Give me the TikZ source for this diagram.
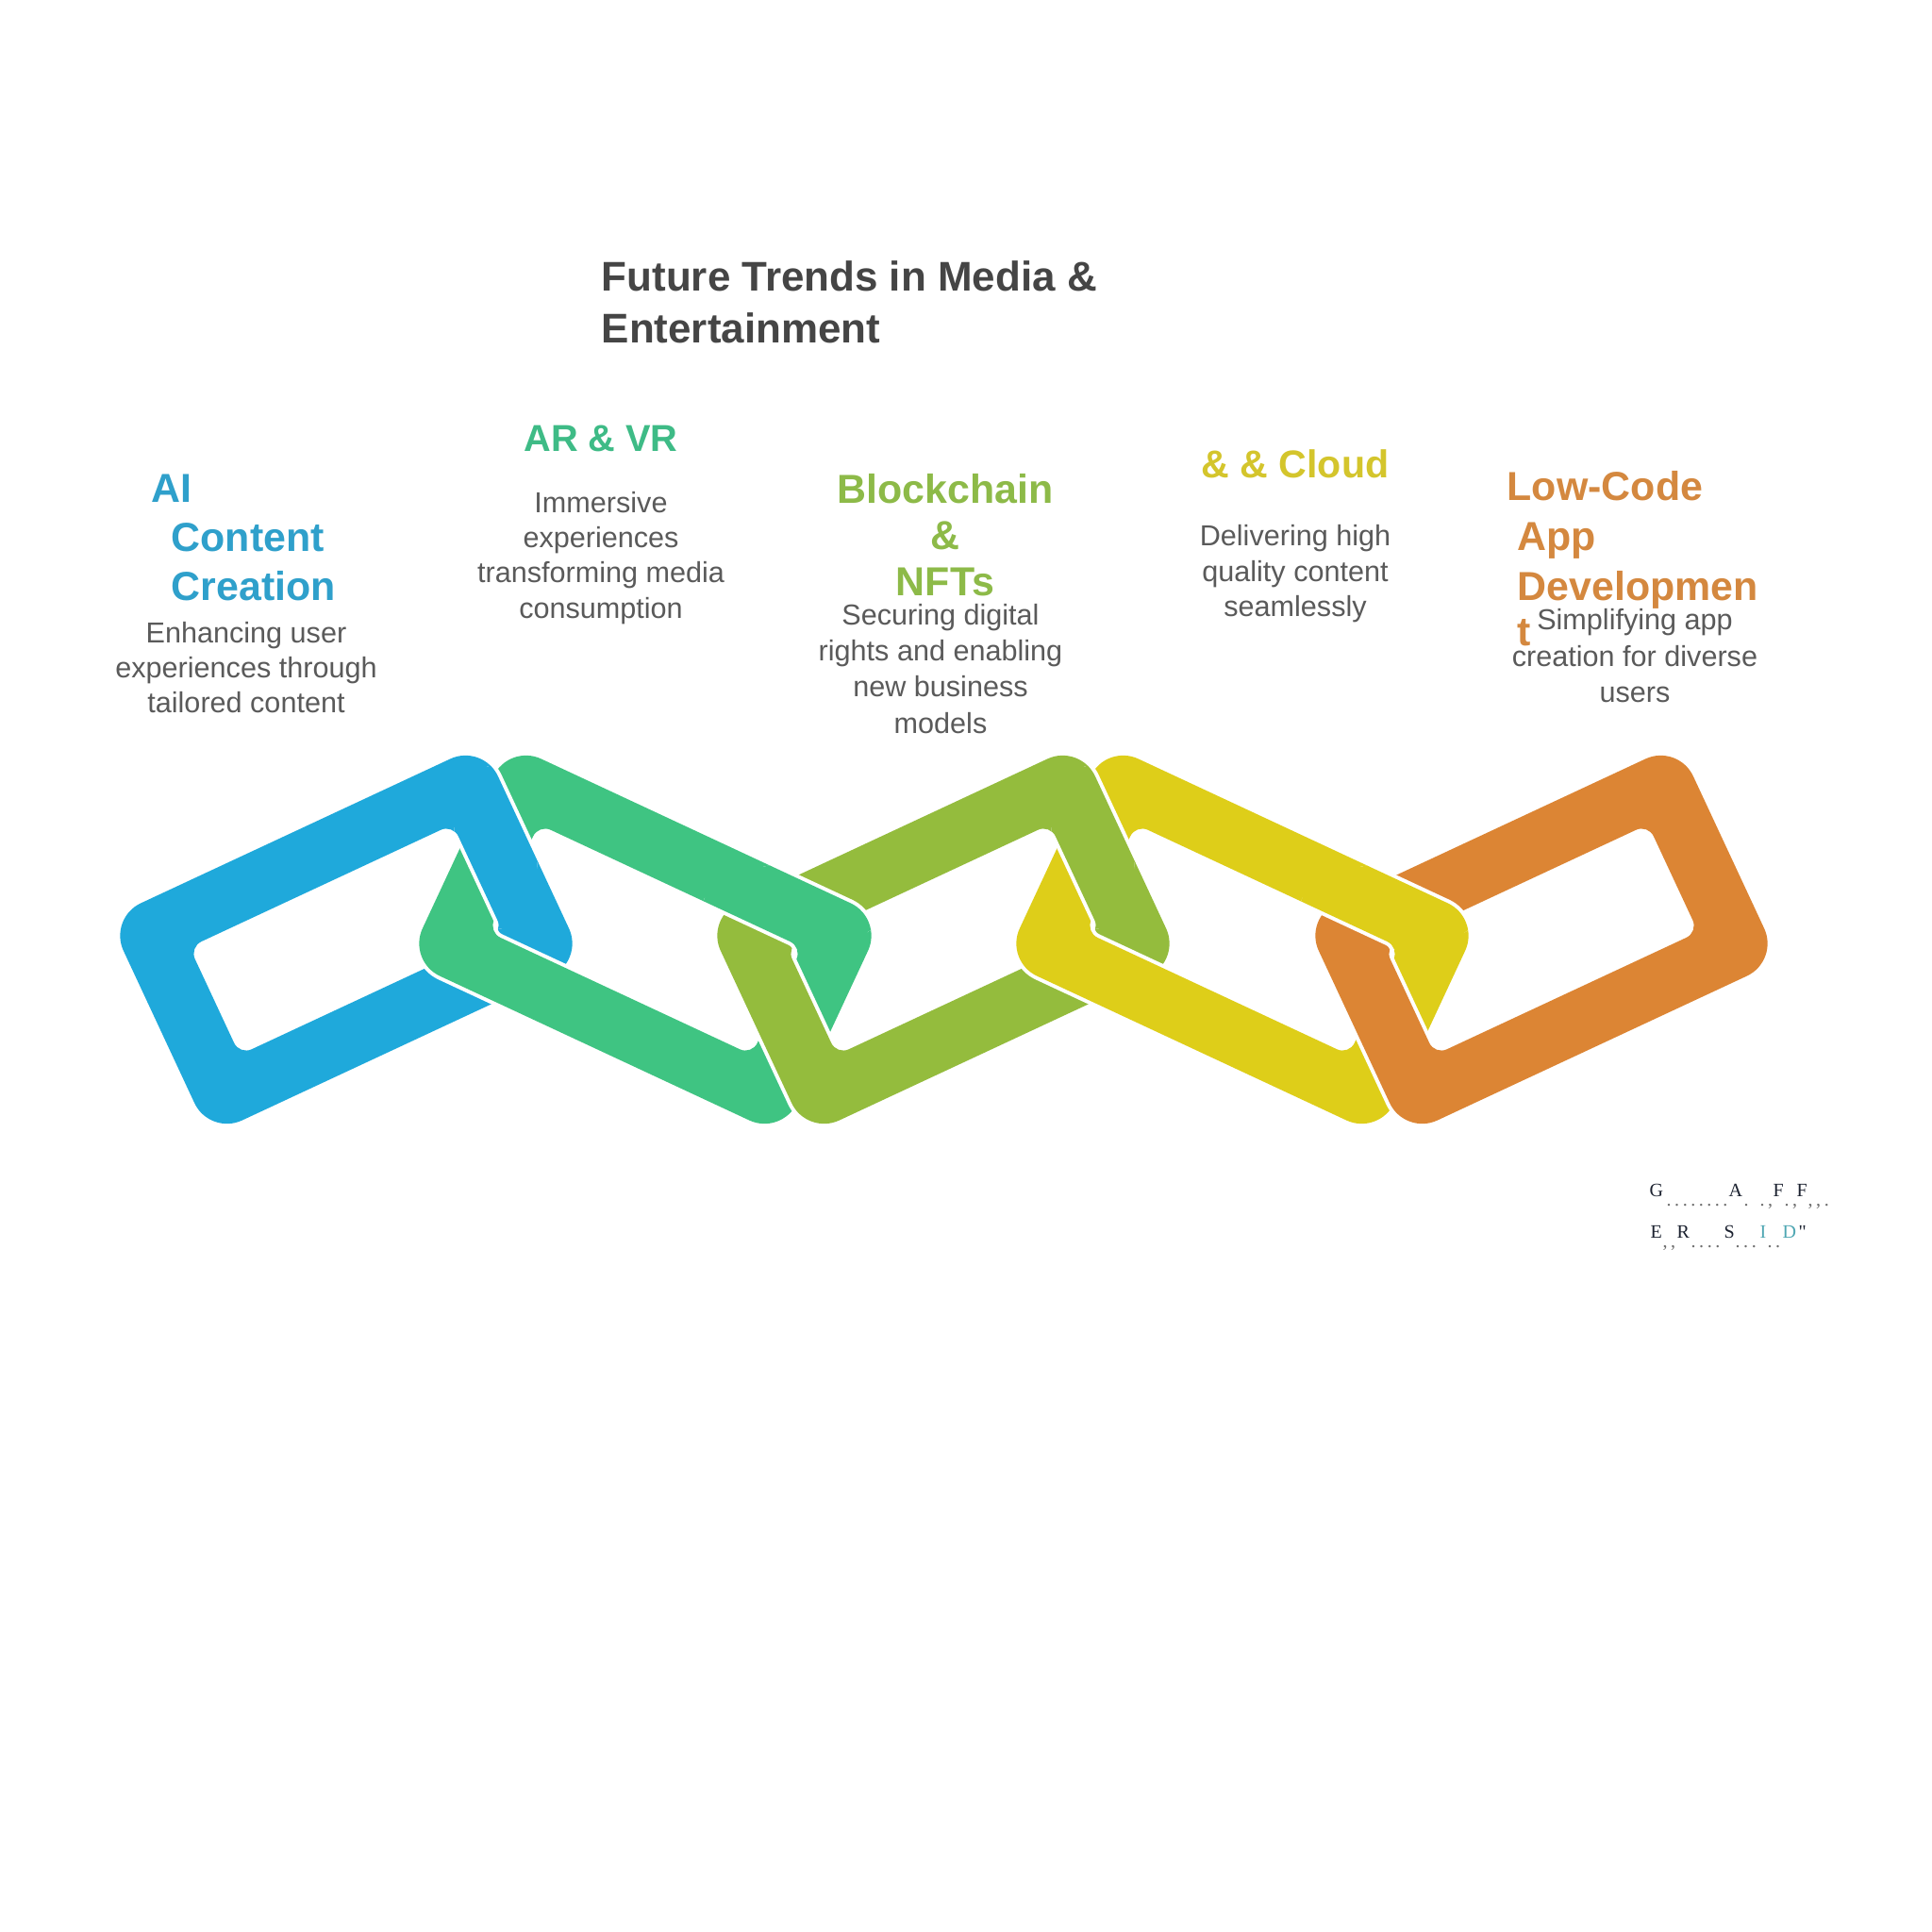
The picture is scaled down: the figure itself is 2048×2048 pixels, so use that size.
\documentclass[tikz,border=0pt]{standalone}
\usepackage{fontspec}
\setmainfont{Liberation Sans}
\newfontfamily\wmserif{Liberation Serif}
\definecolor{linkblue}{HTML}{1FA9DB}
\definecolor{linkgreen}{HTML}{3FC482}
\definecolor{linkolive}{HTML}{94BC3D}
\definecolor{linkyellow}{HTML}{DECE19}
\definecolor{linkorange}{HTML}{DC8534}
\definecolor{hdblue}{HTML}{2FA0CB}
\definecolor{hdgreen}{HTML}{3EBB86}
\definecolor{hdolive}{HTML}{8DBA48}
\definecolor{hdyellow}{HTML}{D4C52C}
\definecolor{hdorange}{HTML}{D4883F}
\definecolor{titlegray}{HTML}{454545}
\definecolor{bodygray}{HTML}{5A5A5A}
\definecolor{wmdark}{HTML}{1C2230}
\definecolor{wmgray}{HTML}{6E6E6E}
\definecolor{wmteal}{HTML}{4FA7B3}
\newcommand\dk{\kern1pt}
\newcommand\chainlink[4]{%
  \begin{scope}[shift={(#1,#2)},rotate=#3]
    \draw[white,line width=0.08cm]
      [rounded corners=0.38cm] (-219,-127) rectangle (219,127)
      [rounded corners=0.14cm] (-154,-63) rectangle (154,63);
    \fill[#4,even odd rule]
      [rounded corners=0.38cm] (-219,-127) rectangle (219,127)
      [rounded corners=0.14cm] (-154,-63) rectangle (154,63);
  \end{scope}}
\begin{document}
\begin{tikzpicture}[x=0.01cm,y=-0.01cm,
  ttl/.style={anchor=base west,inner sep=0pt,text=titlegray,font=\fontsize{12.5}{15}\selectfont\bfseries},
  hd/.style={anchor=base,inner sep=0pt,font=\fontsize{12.2}{14.8}\selectfont\bfseries},
  hdl/.style={hd,anchor=base west},
  bd/.style={anchor=base,inner sep=0pt,text=bodygray,font=\fontsize{8.7}{10.7}\selectfont},
  wm/.style={anchor=base west,inner sep=0pt,text=wmdark,font=\wmserif\fontsize{5.7}{6.8}\selectfont},
  wmd/.style={wm,text=wmgray}]
\fill[white] (0,0) rectangle (2048,2048);
\useasboundingbox (0,0) rectangle (2048,2048);

% chain links
\chainlink{367}{996}{25}{linkblue}
\chainlink{684}{996}{-25}{linkgreen}
\chainlink{1000}{996}{25}{linkolive}
\chainlink{1317}{996}{-25}{linkyellow}
\chainlink{1634}{996}{25}{linkorange}
% left link over right link at the upper crossings
\begin{scope}
  \clip (525.5,898) ellipse [x radius=0.45cm,y radius=0.87cm];
  \chainlink{367}{996}{25}{linkblue}
\end{scope}
\begin{scope}
  \clip (842,961) ellipse [x radius=0.97cm,y radius=0.45cm];
  \chainlink{684}{996}{-25}{linkgreen}
\end{scope}
\begin{scope}
  \clip (1158.5,898) ellipse [x radius=0.45cm,y radius=0.87cm];
  \chainlink{1000}{996}{25}{linkolive}
\end{scope}
\begin{scope}
  \clip (1475.5,961) ellipse [x radius=0.97cm,y radius=0.45cm];
  \chainlink{1317}{996}{-25}{linkyellow}
\end{scope}

% title
\node[ttl] (t1) at (637,308) {Future Trends in Media \&};
\node[ttl] (t2) at (637,363) {Entertainment};

% headings
\node[hdl,text=hdblue] (h1a) at (160,532) {AI};
\node[hdl,text=hdblue] (h1b) at (181,584) {Content};
\node[hdl,text=hdblue] (h1c) at (181,636) {Creation};
\node[hd,text=hdgreen,font=\fontsize{11.3}{14}\selectfont\bfseries] (h2) at (637,478) {AR \& VR};
\node[hd,text=hdolive] (h3a) at (1002,533) {Blockchain};
\node[hd,text=hdolive] (h3b) at (1002,582) {\&};
\node[hd,text=hdolive] (h3c) at (1002,631) {NFTs};
\node[hd,text=hdyellow,font=\fontsize{11.7}{14}\selectfont\bfseries] (h4) at (1373,506) {\& \& Cloud};
\node[hdl,text=hdorange] (h5a) at (1597,530) {Low-Code};
\node[hdl,text=hdorange] (h5b) at (1608,583) {App};
\node[hdl,text=hdorange] (h5c) at (1608,636) {Developmen};
\node[hdl,text=hdorange] (h5d) at (1608,684) {t};

% descriptions
\node[bd] (b1a) at (261,681) {Enhancing user};
\node[bd] (b1b) at (261,718) {experiences through};
\node[bd] (b1c) at (261,755) {tailored content};
\node[bd] (b2a) at (637,543) {Immersive};
\node[bd] (b2b) at (637,580) {experiences};
\node[bd] (b2c) at (637,617) {transforming media};
\node[bd] (b2d) at (637,655) {consumption};
\node[bd] (b3a) at (997,662) {Securing digital};
\node[bd] (b3b) at (997,700) {rights and enabling};
\node[bd] (b3c) at (997,738) {new business};
\node[bd] (b3d) at (997,777) {models};
\node[bd] (b4a) at (1373,578) {Delivering high};
\node[bd] (b4b) at (1373,616) {quality content};
\node[bd] (b4c) at (1373,653) {seamlessly};
\node[bd] (b5a) at (1733,667) {Simplifying app};
\node[bd] (b5b) at (1733,706) {creation for diverse};
\node[bd] (b5c) at (1733,744) {users};

% watermark
\node[wm] (w1) at (1748,1268) {G};
\node[wm] (w2) at (1832,1268) {A};
\node[wm] (w3) at (1879,1268) {F};
\node[wm] (w4) at (1904,1268) {F};
\node[wmd] (d1) at (1766,1278) {.\dk.\dk.\dk.\dk.\dk.\dk.\dk.};
\node[wmd] (d2) at (1848,1278) {.};
\node[wmd] (d3) at (1865,1278) {.\dk,};
\node[wmd] (d4) at (1891,1278) {.\dk,};
\node[wmd] (d5) at (1916,1278) {,\dk,\dk.};
\node[wm] (w5) at (1749,1312) {E};
\node[wm] (w6) at (1777,1312) {R};
\node[wm] (w7) at (1827,1312) {S};
\node[wm,text=wmteal] (w8) at (1865,1312) {I};
\node[wm,text=wmteal] (w9) at (1889,1312) {D};
\node[wm] (w10) at (1906,1312) {"};
\node[wmd] (d6) at (1762,1322) {,\dk,};
\node[wmd] (d7) at (1792,1322) {.\dk.\dk.\dk.};
\node[wmd] (d8) at (1839,1322) {.\dk.\dk.};
\node[wmd] (d9) at (1873,1322) {.\dk.};
\end{tikzpicture}
\end{document}
